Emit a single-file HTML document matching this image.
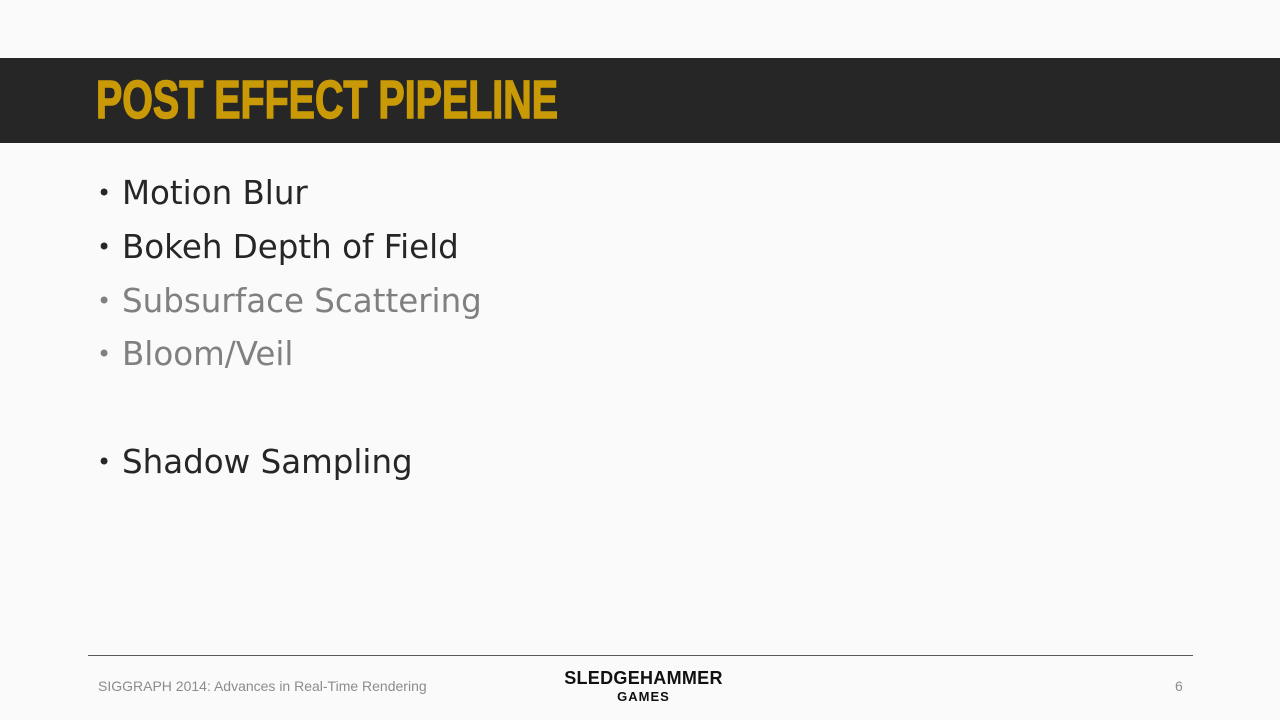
<!DOCTYPE html>
<html>
<head>
<meta charset="utf-8">
<style>
  html,body{margin:0;padding:0;}
  body{width:1280px;height:720px;background:#fafafa;position:relative;overflow:hidden;font-family:"Liberation Sans",sans-serif;}
  .band{position:absolute;left:0;top:58px;width:1280px;height:85px;background:#262626;}
  .title{position:absolute;left:96px;top:72px;font-family:"Liberation Sans Narrow","Liberation Sans",sans-serif;font-weight:bold;font-size:54px;line-height:56px;color:#c99a06;transform-origin:left top;white-space:nowrap;-webkit-text-stroke:1.5px #c99a06;}
  .b{position:absolute;left:97px;font-family:"DejaVu Sans","Liberation Sans",sans-serif;font-size:32.5px;line-height:40px;white-space:nowrap;letter-spacing:0px;}
  .b span.dot{display:inline-block;width:25px;font-size:24px;vertical-align:top;line-height:40px;}
  .dark{color:#262626;}
  .gray{color:#808080;}
  .rule{position:absolute;left:88px;top:655px;width:1105px;height:1px;background:#595959;}
  .foot{position:absolute;top:678px;font-size:14px;color:#8c8c8c;white-space:nowrap;}
  .logo1{position:absolute;left:562px;top:668px;width:163px;text-align:center;font-weight:bold;font-size:18px;color:#111;letter-spacing:0.3px;}
  .logo2{position:absolute;left:562px;top:689px;width:163px;text-align:center;font-weight:bold;font-size:13px;color:#111;letter-spacing:1px;}
</style>
</head>
<body>
  <div class="band"></div>
  <div class="title" id="title">POST EFFECT PIPELINE</div>
  <div class="b dark" style="top:173px"><span class="dot">•</span>Motion Blur</div>
  <div class="b dark" style="top:227px"><span class="dot">•</span>Bokeh Depth of Field</div>
  <div class="b gray" style="top:281px"><span class="dot">•</span>Subsurface Scattering</div>
  <div class="b gray" style="top:334px"><span class="dot">•</span>Bloom/Veil</div>
  <div class="b dark" style="top:442px"><span class="dot">•</span>Shadow Sampling</div>
  <div class="rule"></div>
  <div class="foot" style="left:98px">SIGGRAPH 2014: Advances in Real-Time Rendering</div>
  <div class="foot" style="left:1175px">6</div>
  <div class="logo1">SLEDGEHAMMER</div>
  <div class="logo2">GAMES</div>
  <script>
    var t = document.getElementById('title');
    var w = t.getBoundingClientRect().width;
    if (w > 0) { t.style.transform = 'scaleX(' + (462 / w) + ')'; }
  </script>
</body>
</html>
